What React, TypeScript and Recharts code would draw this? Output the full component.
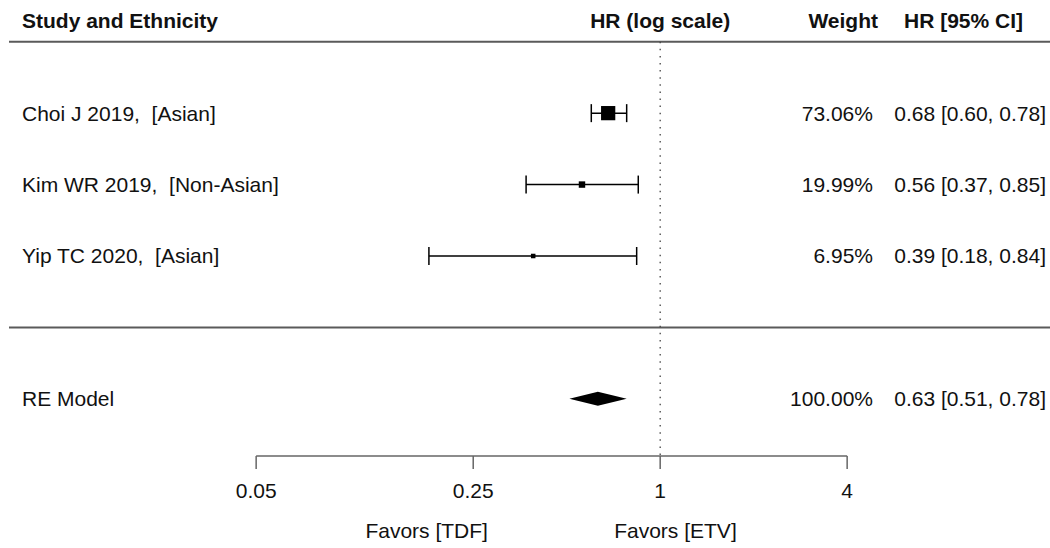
import { ScatterChart, Scatter, XAxis, YAxis, ErrorBar, ReferenceLine, ReferenceDot } from "recharts";

// study rows (top to bottom)
const studyLabels = ["Choi J 2019,  [Asian]", "Kim WR 2019,  [Non-Asian]", "Yip TC 2020,  [Asian]"];
const studyRows = [3, 2, 1];
const studyHr = [0.68, 0.56, 0.39];
const studyLow = [0.6, 0.37, 0.18];
const studyHigh = [0.78, 0.85, 0.84];
const studyWeights = [73.06, 19.99, 6.95];

// pooled estimate
const reLabel = "RE Model";
const reRow = -1;
const reHr = 0.63;
const reLow = 0.51;
const reHigh = 0.78;
const reWeight = 100;

const headerRow = 4.3;
const headerLineRow = 4;
const separatorRow = 0;
const axisRow = -1.8;
const favorRow = -2.85;

const xTicks = [0.05, 0.25, 1, 4];
const favorLabels = ["Favors [TDF]", "Favors [ETV]"];
const favorAt = [0.177, 1.12];

const FONT = "'Liberation Sans', Arial, Helvetica, sans-serif";
const TEXT = "#111";

const studyData = studyLabels.map((label, i) => ({
  label,
  row: studyRows[i],
  hr: studyHr[i],
  weight: studyWeights[i],
  err: [studyHr[i] - studyLow[i], studyHigh[i] - studyHr[i]],
}));

const diamondData = [reLow, reHr, reHigh].map((v) => ({ hr: v, row: reRow }));

const fmt = (v: number) => v.toFixed(2);

const ciText = (hr: number, lo: number, hi: number) => `${fmt(hr)} [${fmt(lo)}, ${fmt(hi)}]`;

const LeftTick = (props: any) => {
  const { x, y, payload } = props;
  const v = payload.value;
  let text = "";
  let bold = false;
  if (v === headerRow) {
    text = "Study and Ethnicity";
    bold = true;
  } else if (v === reRow) {
    text = reLabel;
  } else {
    text = studyLabels[studyRows.indexOf(v)];
  }
  return (
    <text
      x={x}
      y={y}
      dy="0.355em"
      textAnchor="start"
      fontSize={21}
      fill={TEXT}
      fontWeight={bold ? "bold" : "normal"}
      style={{ whiteSpace: "pre" }}
    >
      {text}
    </text>
  );
};

const RightTick = (props: any) => {
  const { x, y, payload } = props;
  const v = payload.value;
  if (v === headerRow) {
    return (
      <g fontSize={21} fill={TEXT} fontWeight="bold">
        <text x={x - 168} y={y} dy="0.355em" textAnchor="end">Weight</text>
        <text x={x - 23} y={y} dy="0.355em" textAnchor="end">HR [95% CI]</text>
      </g>
    );
  }
  let w = reWeight;
  let ci = ciText(reHr, reLow, reHigh);
  if (v !== reRow) {
    const i = studyRows.indexOf(v);
    w = studyWeights[i];
    ci = ciText(studyHr[i], studyLow[i], studyHigh[i]);
  }
  return (
    <g fontSize={21} fill={TEXT}>
      <text x={x - 173} y={y} dy="0.355em" textAnchor="end">{fmt(w)}%</text>
      <text x={x} y={y} dy="0.355em" textAnchor="end">{ci}</text>
    </g>
  );
};

const WeightSquare = (props: any) => {
  const { cx, cy, payload } = props;
  const side = 3.5 + 0.147 * payload.weight;
  return <rect x={cx - side / 2} y={cy - side / 2} width={side} height={side} fill="#000" />;
};

const Diamond = (props: any) => {
  const pts = props.points || [];
  if (pts.length < 3) return <g />;
  const [l, m, r] = pts;
  const h = 7;
  return <path d={`M${l.x},${l.y}L${m.x},${m.y - h}L${r.x},${r.y}L${m.x},${m.y + h}Z`} fill="#000" stroke="none" />;
};

const yTicks = [headerRow, ...studyRows, reRow];

export default function App() {
  return (
    <div style={{ position: "absolute", left: 0, top: 0, width: 1050, height: 548, background: "#fff", fontFamily: FONT }}>
      <ScatterChart width={1050} height={548} margin={{ top: 6, right: 0, bottom: 32, left: 9 }}>
        <XAxis
          type="number"
          dataKey="hr"
          scale="log"
          domain={[0.008, 18]}
          allowDataOverflow
          ticks={xTicks}
          interval={0}
          axisLine={false}
          tickLine={{ stroke: "#666", strokeWidth: 1.5 }}
          tickSize={13}
          tickMargin={14}
          height={60}
          tick={{ fill: TEXT, fontSize: 21 }}
        />
        <YAxis
          type="number"
          dataKey="row"
          domain={[axisRow, 4.5]}
          allowDataOverflow
          orientation="left"
          mirror
          ticks={yTicks}
          interval={0}
          axisLine={false}
          tickLine={false}
          tickSize={0}
          tickMargin={13}
          tick={<LeftTick />}
        />
        <YAxis
          yAxisId="right"
          type="number"
          domain={[axisRow, 4.5]}
          allowDataOverflow
          orientation="right"
          mirror
          ticks={yTicks}
          interval={0}
          axisLine={false}
          tickLine={false}
          tickSize={0}
          tickMargin={4}
          tick={<RightTick />}
        />

        <ReferenceLine y={headerLineRow} stroke="#5a5a5a" strokeWidth={2} />
        <ReferenceLine y={separatorRow} stroke="#5a5a5a" strokeWidth={2} />
        <ReferenceLine
          segment={[{ x: 1, y: headerLineRow }, { x: 1, y: axisRow }]}
          stroke="#444"
          strokeWidth={1.3}
          strokeDasharray="1.5 5.6"
        />
        <ReferenceLine
          segment={[{ x: xTicks[0], y: axisRow }, { x: xTicks[xTicks.length - 1], y: axisRow }]}
          stroke="#666"
          strokeWidth={1.5}
        />

        <ReferenceDot
          x={1}
          y={headerRow}
          r={0}
          ifOverflow="visible"
          label={{ value: "HR (log scale)", position: "center", fill: TEXT, fontSize: 21, fontWeight: "bold" }}
        />
        {favorLabels.map((t, i) => (
          <ReferenceDot
            key={t}
            x={favorAt[i]}
            y={favorRow}
            r={0}
            ifOverflow="visible"
            label={{ value: t, position: "center", fill: TEXT, fontSize: 21 }}
          />
        ))}

        <Scatter data={studyData} shape={<WeightSquare />} isAnimationActive={false}>
          <ErrorBar dataKey="err" direction="x" width={9} stroke="#000" strokeWidth={1.5} isAnimationActive={false} />
        </Scatter>
        <Scatter
          data={diamondData}
          shape={() => <g />}
          line={Diamond}
          lineType="joint"
          isAnimationActive={false}
        />
      </ScatterChart>
    </div>
  );
}
